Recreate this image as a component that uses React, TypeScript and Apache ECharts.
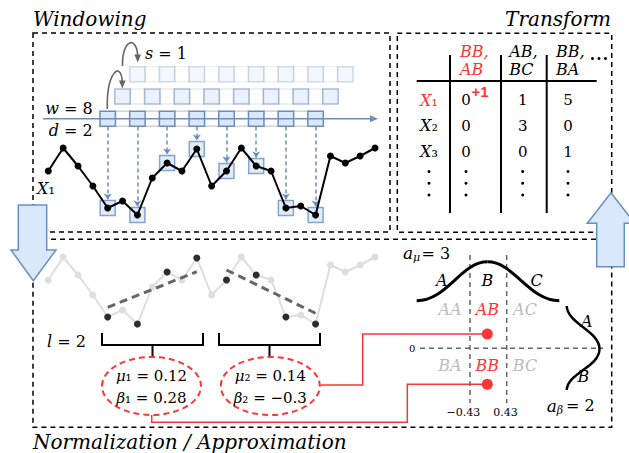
import React, { useEffect, useRef } from 'react';
import * as echarts from 'echarts';

// ---------- data ----------
const seriesValues = [4.4, 6.7, 4.9, 2.9, 0.7, 1.4, 0.0, 3.7, 5.2, 4.4, 6.6, 2.9, 4.4, 6.7, 4.9, 4.4, 0.7, 0.9, 0.0, 5.9, 5.2, 5.9, 6.7];
const windowSize = 8;
const dilation = 2;
const stride = 1;
const windowStart = 4;
const windowRowLevels = [9.63, 11.85, 14.08];
const windowRowOpacity = [1, 0.55, 0.3];
const paaSegments = [
  [[4, 1.67], [10, 5.23]],
  [[12, 5.4], [18, 1.07]],
];
const segmentMu = ['0.12', '0.14'];
const segmentBeta = ['0.28', '−0.3'];
const tableHeaders = [['BB,', 'AB'], ['AB,', 'BC'], ['BB,', 'BA']];
const tableRowSubs = ['₁', '₂', '₃'];
const tableValues = [[0, 1, 5], [0, 3, 0], [0, 0, 1]];
const muBreakpoints = ['−0.43', '0.43'];
const muSymbols = ['A', 'B', 'C'];
const betaSymbols = ['A', 'B'];
const wordGrid = [['AA', 'AB', 'AC'], ['BA', 'BB', 'BC']];
const wordHighlight = [[false, true, false], [false, true, false]];

// ---------- helpers ----------
const SERIF = '"DejaVu Serif", serif';
const BLUE_FILL = '#dae8fc';
const BLUE = '#6c8ebf';
const RED = '#ff3434';
const windowIdx = Array.from({ length: windowSize }, (_, k) => windowStart + k * dilation);

function rt(x: number, y: number, text: string, size: number, opt: any = {}) {
  const color = opt.color || '#000';
  const base = { fontFamily: SERIF, fontSize: size, fill: color, fontWeight: 'normal' };
  return {
    type: 'text', x, y, z: opt.z ?? 10,
    style: {
      text, ...base, fontStyle: 'normal', align: opt.align || 'left', verticalAlign: 'middle',
      rich: {
        i: { ...base, fontStyle: 'italic' },
        u: { ...base, fontStyle: 'normal' },
      },
    },
  };
}
const dashed = { fill: 'none', stroke: '#000', lineWidth: 1.5, lineDash: [5, 4] };
const line = (x1: number, y1: number, x2: number, y2: number, style: any) => ({ type: 'line', shape: { x1, y1, x2, y2 }, style, z: 5 });
const poly = (points: number[][], style: any, z = 5) => ({ type: 'polyline', shape: { points }, style: { fill: 'none', ...style }, z });

function buildOption() {
  const series: any[] = [];
  // window rows
  windowRowLevels.forEach((lvl, r) => {
    const cells: number[] = [];
    for (let k = 0; k <= (windowSize - 1) * dilation; k++) cells.push(windowStart + r * stride + k);
    series.push({
      type: 'scatter', xAxisIndex: 0, yAxisIndex: 0, silent: true, z: 1,
      data: cells.filter((_, k) => k % dilation !== 0).map((i) => [i, lvl]),
      symbol: 'rect', symbolSize: [14.9, 15],
      itemStyle: { color: '#fff', borderColor: '#c9c9c9', borderWidth: 1.2, opacity: windowRowOpacity[r] },
    });
    series.push({
      type: 'scatter', xAxisIndex: 0, yAxisIndex: 0, silent: true, z: 2,
      data: cells.filter((_, k) => k % dilation === 0).map((i) => [i, lvl]),
      symbol: 'rect', symbolSize: [15.5, 15],
      itemStyle: { color: BLUE_FILL, borderColor: BLUE, borderWidth: 1.5, opacity: windowRowOpacity[r] },
    });
  });
  // boxes on sampled points + dashed arrows
  series.push({
    type: 'scatter', xAxisIndex: 0, yAxisIndex: 0, silent: true, z: 2,
    data: windowIdx.map((i) => [i, seriesValues[i]]),
    symbol: 'rect', symbolSize: 15,
    itemStyle: { color: BLUE_FILL, borderColor: BLUE, borderWidth: 1.5 },
    markLine: {
      silent: true, animation: false, symbol: ['none', 'arrow'], symbolSize: 6,
      label: { show: false },
      lineStyle: { type: [4, 3], color: BLUE, width: 1.5 },
      data: windowIdx.map((i) => [{ coord: [i, windowRowLevels[0] - 0.78] }, { coord: [i, seriesValues[i] + 0.85] }]),
    },
  });
  series.push({
    type: 'line', xAxisIndex: 0, yAxisIndex: 0, silent: true, z: 5,
    data: seriesValues.map((v, i) => [i, v]),
    symbol: 'circle', symbolSize: 7, showAllSymbol: true,
    lineStyle: { color: '#000', width: 2 }, itemStyle: { color: '#000' },
  });
  // bottom
  series.push({
    type: 'line', xAxisIndex: 1, yAxisIndex: 1, silent: true, z: 2,
    data: seriesValues.map((v, i) => [i, v]),
    symbol: 'circle', symbolSize: 7, showAllSymbol: true,
    lineStyle: { color: '#dedede', width: 2 }, itemStyle: { color: '#dedede' },
  });
  paaSegments.forEach((seg) => {
    series.push({
      type: 'line', xAxisIndex: 1, yAxisIndex: 1, silent: true, z: 3,
      data: seg, symbol: 'none',
      lineStyle: { color: '#666', width: 3, type: [8, 5] },
    });
  });
  series.push({
    type: 'scatter', xAxisIndex: 1, yAxisIndex: 1, silent: true, z: 4,
    data: windowIdx.map((i) => [i, seriesValues[i]]),
    symbol: 'circle', symbolSize: 7, itemStyle: { color: '#000' },
  });

  const g: any[] = [];
  // dashed panels
  g.push({ type: 'rect', shape: { x: 33, y: 33, width: 357, height: 199 }, style: dashed, z: 1 });
  g.push({ type: 'rect', shape: { x: 397.3, y: 33.3, width: 214.4, height: 199 }, style: dashed, z: 1 });
  g.push({ type: 'rect', shape: { x: 33, y: 239.3, width: 578.7, height: 188 }, style: dashed, z: 1 });
  // headings
  g.push(rt(33, 19, '{i|Windowing}', 20));
  g.push(rt(611, 19, '{i|Transform}', 20, { align: 'right' }));
  g.push(rt(33, 442, '{i|Normalization / Approximation}', 20));

  // windowing annotations
  g.push(line(43, 118.7, 371, 118.7, { stroke: BLUE, lineWidth: 1.5 }));
  g.push({ type: 'polygon', shape: { points: [[378, 118.7], [370, 115.2], [370, 122.2]] }, style: { fill: BLUE }, z: 5 });
  g.push(rt(92.7, 108, '{i|w}{u| = 8}', 16, { align: 'right' }));
  g.push(rt(92.7, 130, '{i|d}{u| = 2}', 16, { align: 'right' }));
  g.push(rt(145, 53, '{i|s}{u| = 1}', 16));
  g.push(rt(37, 188, '{i|X}{u|₁}', 16));
  const grayArrow = { stroke: '#666', lineWidth: 1.6, fill: 'none' };
  g.push({ type: 'bezierCurve', shape: { x1: 107.3, y1: 109, cpx1: 106.5, cpy1: 72, cpx2: 121, cpy2: 60, x2: 122.3, y2: 82 }, style: grayArrow, z: 5 });
  g.push({ type: 'polygon', shape: { points: [[122.3, 88.5], [119, 80.5], [125.6, 80.5]] }, style: { fill: '#666' }, z: 5 });
  g.push({ type: 'bezierCurve', shape: { x1: 122.5, y1: 66, cpx1: 122, cpy1: 38, cpx2: 137, cpy2: 36, x2: 137.7, y2: 56 }, style: grayArrow, z: 5 });
  g.push({ type: 'polygon', shape: { points: [[137.7, 62.5], [134.4, 54.5], [141, 54.5]] }, style: { fill: '#666' }, z: 5 });

  // transform table
  const colX = [450, 501, 546.7];
  colX.forEach((x) => g.push(line(x, 55, x, 213, { stroke: '#000', lineWidth: 2 })));
  g.push(line(416.7, 81, 596.7, 81, { stroke: '#000', lineWidth: 2 }));
  const headX = [460, 509.3, 556];
  tableHeaders.forEach((h, c) => {
    const color = c === 0 ? RED : '#000';
    g.push(rt(headX[c], 51, `{i|${h[0]}}`, 16, { color }));
    g.push(rt(headX[c], 69, `{i|${h[1]}}`, 16, { color }));
  });
  [592.5, 599, 605.5].forEach((x) => g.push({ type: 'circle', shape: { cx: x, cy: 58.5, r: 1.5 }, style: { fill: '#000' }, z: 5 }));
  const rowY = [100, 125.5, 151.5];
  const valX = [466, 522.7, 568];
  tableRowSubs.forEach((sub, r) => {
    const color = r === 0 ? RED : '#000';
    g.push(rt(420, rowY[r], `{i|X}{u|${sub}}`, 16, { color }));
    tableValues[r].forEach((v, c) => g.push(rt(valX[c], rowY[r], `{u|${v}}`, 15, { align: 'center' })));
  });
  g.push({ type: 'text', x: 471.5, y: 91, z: 10, style: { text: '+1', fontFamily: '"Liberation Sans", Arial, sans-serif', fontWeight: 'bold', fontSize: 15, fill: RED, align: 'left', verticalAlign: 'middle' } });
  [429, ...valX].forEach((x) => [171.5, 183.3, 195].forEach((y) => g.push({ type: 'circle', shape: { cx: x, cy: y, r: 1.5 }, style: { fill: '#000' }, z: 5 })));

  // normalization annotations
  g.push(rt(47, 341.7, '{i|l}{u| = 2}', 16));
  const brackets = [[102, 203], [219, 320]];
  brackets.forEach(([a, b]) => {
    g.push(poly([[a, 333], [a, 345], [b, 345], [b, 333]], { stroke: '#000', lineWidth: 2 }));
    const m = (a + b) / 2;
    g.push(line(m, 345, m, 357, { stroke: '#000', lineWidth: 2 }));
  });
  const ellCx = [151.5, 270.3];
  ellCx.forEach((cx, k) => {
    g.push({ type: 'ellipse', shape: { cx, cy: 386, rx: 49.5, ry: 29 }, style: { fill: 'none', stroke: RED, lineWidth: 2, lineDash: [6, 4] }, z: 5 });
    g.push(rt(cx, 375.5, `{i|μ}{u|${['₁', '₂'][k]} = ${segmentMu[k]}}`, 15, { align: 'center' }));
    g.push(rt(cx, 397.5, `{i|β}{u|${['₁', '₂'][k]} = ${segmentBeta[k]}}`, 15, { align: 'center' }));
  });
  g.push(poly([[151.7, 415], [151.7, 422.3], [407.3, 422.3], [407.3, 384.3], [487.3, 384.3]], { stroke: RED, lineWidth: 1.5 }));
  g.push(poly([[320.5, 385], [362.7, 385], [362.7, 334], [487.3, 334]], { stroke: RED, lineWidth: 1.5 }));

  // SAX gaussian panel
  const gd = { stroke: '#666', lineWidth: 1.5, lineDash: [5, 4] };
  g.push(line(470, 255, 470, 403, gd));
  g.push(line(506.7, 255, 506.7, 403, gd));
  g.push(line(420, 348.3, 603, 348.3, gd));
  const bell = { stroke: '#000', lineWidth: 3, fill: 'none' };
  g.push({ type: 'bezierCurve', shape: { x1: 416.7, y1: 300.7, cpx1: 447, cpy1: 300.7, cpx2: 461, cpy2: 261.8, x2: 487.5, y2: 261.8 }, style: bell, z: 6 });
  g.push({ type: 'bezierCurve', shape: { x1: 487.5, y1: 261.8, cpx1: 514, cpy1: 261.8, cpx2: 529, cpy2: 300.7, x2: 559.3, y2: 300.7 }, style: bell, z: 6 });
  g.push({ type: 'bezierCurve', shape: { x1: 566.7, y1: 306, cpx1: 567.5, cpy1: 324, cpx2: 599.5, cpy2: 331, x2: 599.5, y2: 349 }, style: { ...bell, lineWidth: 2.5 }, z: 6 });
  g.push({ type: 'bezierCurve', shape: { x1: 599.5, y1: 349, cpx1: 599.5, cpy1: 367, cpx2: 567.5, cpy2: 373, x2: 566.7, y2: 390 }, style: { ...bell, lineWidth: 2.5 }, z: 6 });
  g.push(rt(403, 253.3, '{i|a}', 17));
  g.push(rt(413, 257.5, '{i|μ}', 11));
  g.push(rt(421.5, 253.3, '{u|= 3}', 16));
  g.push(rt(546.7, 405.7, '{i|a}', 17));
  g.push(rt(556.7, 410, '{i|β}', 11));
  g.push(rt(566, 405.7, '{u|= 2}', 16));
  const muSymX = [441.7, 487.3, 536.7];
  muSymbols.forEach((s, k) => g.push(rt(muSymX[k], 280, `{i|${s}}`, 16, { align: 'center' })));
  g.push(rt(586.7, 321.7, `{i|${betaSymbols[0]}}`, 16, { align: 'center' }));
  g.push(rt(583.3, 376.7, `{i|${betaSymbols[1]}}`, 16, { align: 'center' }));
  const wordX = [450, 487.3, 525];
  const wordY = [309, 365];
  wordGrid.forEach((row, r) => row.forEach((w, c) => g.push(rt(wordX[c], wordY[r], `{i|${w}}`, 16, { align: 'center', color: wordHighlight[r][c] ? RED : '#bcbcbc' }))));
  g.push(rt(412.3, 348.3, '{u|0}', 10, { align: 'center' }));
  g.push(rt(463.3, 412.7, `{u|${muBreakpoints[0]}}`, 11, { align: 'center' }));
  g.push(rt(505.5, 412.7, `{u|${muBreakpoints[1]}}`, 11, { align: 'center' }));
  g.push({ type: 'circle', shape: { cx: 487.3, cy: 334, r: 5.5 }, style: { fill: RED }, z: 8 });
  g.push({ type: 'circle', shape: { cx: 487.3, cy: 384.3, r: 5.5 }, style: { fill: RED }, z: 8 });

  // big arrows
  const arrowStyle = { fill: BLUE_FILL, stroke: BLUE, lineWidth: 1.5 };
  g.push({ type: 'polygon', shape: { points: [[18.3, 205], [46.7, 205], [46.7, 250], [56, 250], [33.3, 280.7], [11, 250], [18.3, 250]] }, style: arrowStyle, z: 20 });
  g.push({ type: 'polygon', shape: { points: [[596.7, 266.7], [624.3, 266.7], [624.3, 223.3], [634.7, 223.3], [611, 192.7], [587.3, 223.3], [596.7, 223.3]] }, style: arrowStyle, z: 20 });

  const axisHidden = { show: false };
  return {
    animation: false,
    backgroundColor: '#fff',
    grid: [
      { left: 48.3, width: 326.7, top: 55, height: 170 },
      { left: 48.3, width: 326.7, top: 244, height: 90 },
    ],
    xAxis: [
      { type: 'value', gridIndex: 0, min: 0, max: 22, ...axisHidden },
      { type: 'value', gridIndex: 1, min: 0, max: 22, ...axisHidden },
    ],
    yAxis: [
      { type: 'value', gridIndex: 0, min: -1, max: 16, ...axisHidden },
      { type: 'value', gridIndex: 1, min: -1, max: 8, ...axisHidden },
    ],
    series,
    graphic: g,
  };
}

export default function App() {
  const ref = useRef<HTMLDivElement>(null);
  useEffect(() => {
    const chart = echarts.init(ref.current as HTMLDivElement, null, { renderer: 'svg' });
    chart.setOption(buildOption() as any);
    return () => chart.dispose();
  }, []);
  return <div ref={ref} style={{ position: 'fixed', left: 0, top: 0, width: 629, height: 453, background: '#fff' }} />;
}
